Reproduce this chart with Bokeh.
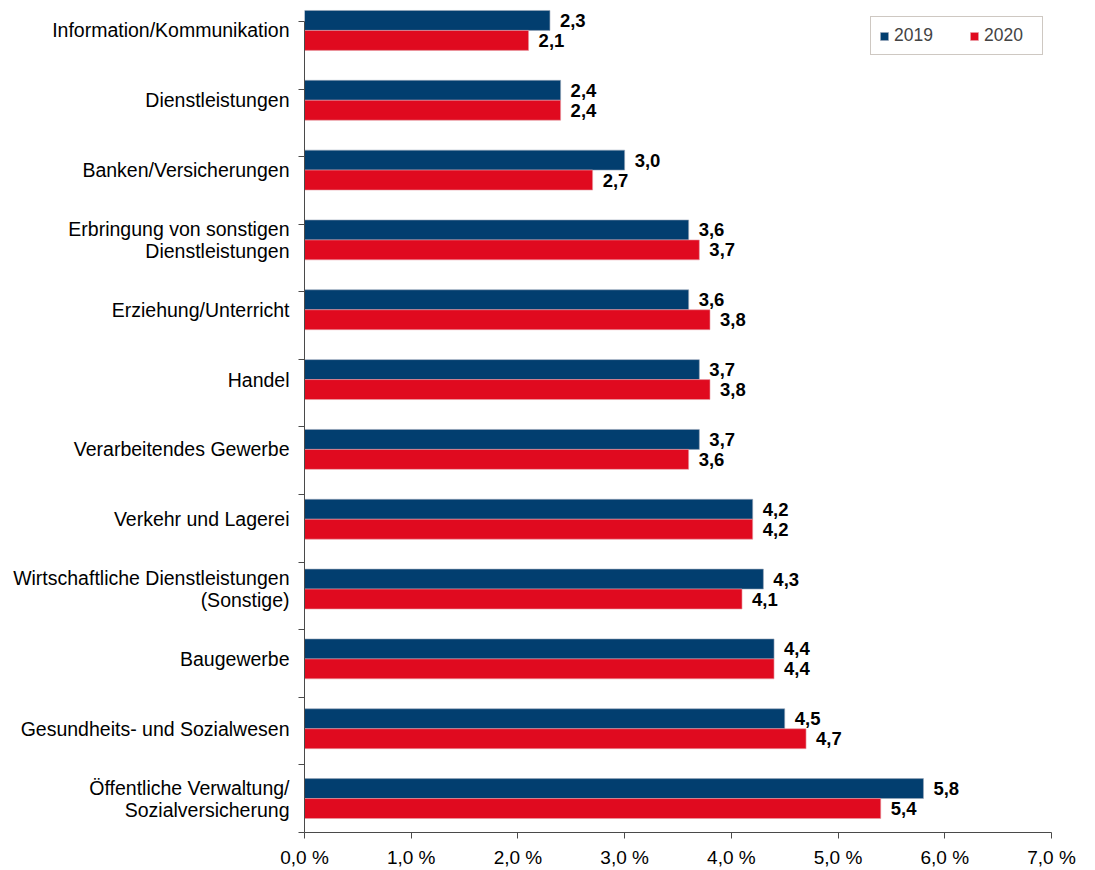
import numpy as np
from bokeh.plotting import figure
from bokeh.models import ColumnDataSource, Range1d, FixedTicker, Legend, LegendItem
from bokeh.transform import dodge
from bokeh.core.properties import value
from bokeh.embed import file_html
from bokeh.resources import INLINE

categories = [
    "Information/Kommunikation",
    "Dienstleistungen",
    "Banken/Versicherungen",
    "Erbringung von sonstigen\nDienstleistungen",
    "Erziehung/Unterricht",
    "Handel",
    "Verarbeitendes Gewerbe",
    "Verkehr und Lagerei",
    "Wirtschaftliche Dienstleistungen\n(Sonstige)",
    "Baugewerbe",
    "Gesundheits- und Sozialwesen",
    "Öffentliche Verwaltung/\nSozialversicherung",
]
values_2019 = [2.3, 2.4, 3.0, 3.6, 3.6, 3.7, 3.7, 4.2, 4.3, 4.4, 4.5, 5.8]
values_2020 = [2.1, 2.4, 2.7, 3.7, 3.8, 3.8, 3.6, 4.2, 4.1, 4.4, 4.7, 5.4]
series_names = ["2019", "2020"]
x_ticks = [0, 1, 2, 3, 4, 5, 6, 7]
x_tick_labels = ["0,0 %", "1,0 %", "2,0 %", "3,0 %", "4,0 %", "5,0 %", "6,0 %", "7,0 %"]

BLUE = "#023e6f"
RED = "#e00a1f"
FONT = "Liberation Sans"

idx = list(range(len(categories)))


def fmt(v):
    return f"{v:.1f}".replace(".", ",")


src = ColumnDataSource(dict(
    y=idx,
    v19=values_2019,
    v20=values_2020,
    l19=[fmt(v) for v in values_2019],
    l20=[fmt(v) for v in values_2020],
))

p = figure(width=1095, height=870, output_backend="svg", toolbar_location=None,
           x_range=Range1d(0, 7), y_range=Range1d(11.486, -0.4286),
           min_border_left=304, min_border_right=44, min_border_top=0,
           min_border_bottom=36)
p.outline_line_color = None
p.grid.grid_line_color = None
p.background_fill_color = "white"
p.border_fill_color = "white"

off = 0.1429
bh = 0.2857
r19 = p.hbar(y=dodge("y", -off), left=0, right="v19", height=bh, source=src,
             fill_color=BLUE, line_color="#9aa6b8", line_width=0.6)
r20 = p.hbar(y=dodge("y", off), left=0, right="v20", height=bh, source=src,
             fill_color=RED, line_color="#e8a0a8", line_width=0.6)

for fld, lab, o in (("v19", "l19", -off), ("v20", "l20", off)):
    p.text(x=fld, y=dodge("y", o), text=lab, source=src, x_offset=10,
           text_align="left", text_baseline="middle",
           text_font=value(FONT), text_font_style="bold",
           text_font_size="18.5px", text_color="black")

# x axis
xa = p.xaxis[0]
xa.ticker = FixedTicker(ticks=x_ticks)
xa.major_label_overrides = {t: l for t, l in zip(x_ticks, x_tick_labels)}
xa.major_label_text_font = FONT
xa.major_label_text_font_size = "19px"
xa.major_label_text_color = "black"
xa.axis_line_color = "#4a4a4a"
xa.major_tick_line_color = "#4a4a4a"
xa.major_tick_out = 6
xa.major_tick_in = 0
xa.minor_tick_line_color = None
xa.major_label_standoff = 8

# y axis
ya = p.yaxis[0]
boundaries = list(np.linspace(-0.129, 11.486, 13))
ya.ticker = FixedTicker(ticks=idx, minor_ticks=boundaries)
ya.bounds = (-0.129, 11.486)
ya.major_label_overrides = {i: c for i, c in zip(idx, categories)}
ya.major_label_text_font = FONT
ya.major_label_text_font_size = "19.5px"
ya.major_label_text_line_height = 1.0
ya.major_label_text_color = "black"
ya.axis_line_color = "#4a4a4a"
ya.major_tick_line_color = None
ya.major_tick_out = 0
ya.major_tick_in = 0
ya.minor_tick_line_color = "#4a4a4a"
ya.minor_tick_out = 6
ya.minor_tick_in = 0
ya.major_label_standoff = 9

legend = Legend(items=[LegendItem(label=series_names[0], renderers=[r19]),
                       LegendItem(label=series_names[1], renderers=[r20])],
                orientation="horizontal", location=(566, 777),
                padding=8, spacing=25, margin=0,
                glyph_width=10, glyph_height=10, label_standoff=5,
                label_width=50, label_height=20,
                label_text_font=FONT, label_text_font_size="17.5px",
                border_line_color="#9d9185", border_line_width=1,
                background_fill_color="white", background_fill_alpha=1)
p.add_layout(legend)

open("out.html", "w").write(file_html(p, INLINE))
